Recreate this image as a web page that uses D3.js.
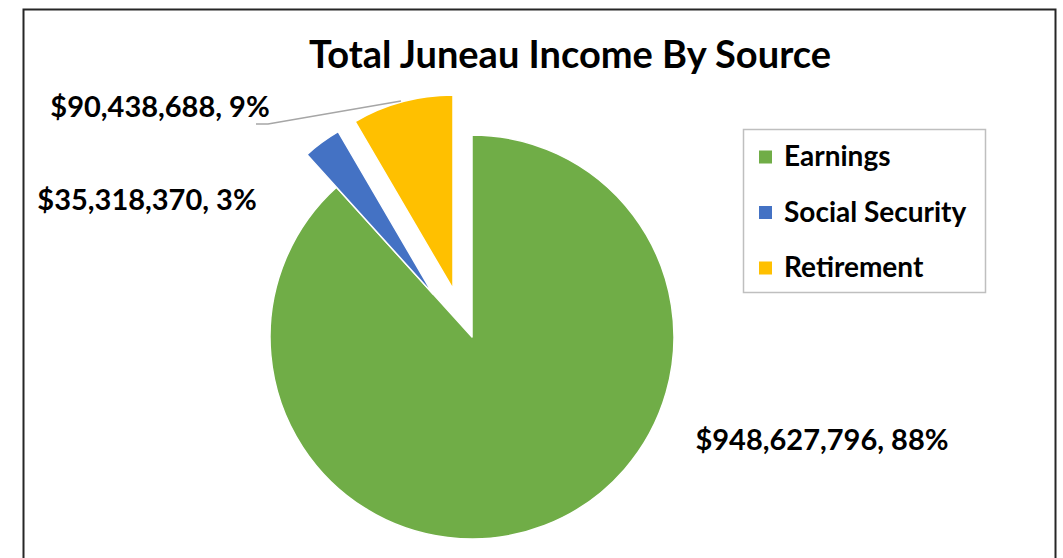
<!DOCTYPE html>
<html>
<head>
<meta charset="utf-8">
<script src="https://cdn.jsdelivr.net/npm/d3@7/dist/d3.min.js"></script>
<style>
	html, body { margin: 0; padding: 0; background: #fff; }
	svg { display: block; }
	text { font-family: Lato, "Open Sans", sans-serif; font-weight: bold; fill: #000; }
</style>
</head>
<body>
<svg id="chart" width="1063" height="558"></svg>
<script>
// data
const categories = ["Earnings", "Social Security", "Retirement"];
const incomes    = [948627796, 35318370, 90438688];
const percents   = [88, 3, 9];
const colors     = ["#70AD47", "#4472C4", "#FFC000"];
const title      = "Total Juneau Income By Source";

// layout
const cx = 472, cy = 337;
const radius   = [202, 188, 194];
// exploded slice offsets from the pie centre
const shift    = [[0, 0], [-39, -43], [-19, -48]];
const labelPos = [[822, 450], [147, 210], [160, 117]];

const svg = d3.select("#chart");

// frame
svg.append("rect")
	.attr("x", 23.5).attr("y", 9.5)
	.attr("width", 1032).attr("height", 600)
	.attr("fill", "#fff")
	.attr("stroke", "#262626")
	.attr("stroke-width", 2);

svg.append("text")
	.attr("x", 570).attr("y", 68)
	.attr("text-anchor", "middle")
	.attr("font-size", 38)
	.text(title);

// pie
const pie = d3.pie().sort(null).value(d => d)(incomes);
const g = svg.append("g").attr("transform", `translate(${cx},${cy})`);

g.selectAll("path")
	.data(pie)
	.join("path")
	.attr("transform", (d, i) => `translate(${shift[i][0]},${shift[i][1]})`)
	.attr("d", (d, i) => d3.arc().innerRadius(0).outerRadius(radius[i])(d))
	.attr("fill", (d, i) => colors[i])
	.attr("stroke", "#fff")
	.attr("stroke-width", 1.5)
	.attr("stroke-linejoin", "round");

// leader line for the retirement label
svg.append("path")
	.attr("d", d3.line()([[256, 124], [268, 124], [401, 101]]))
	.attr("fill", "none")
	.attr("stroke", "#A6A6A6")
	.attr("stroke-width", 1.5);

// data labels
const fmt = d3.format("$,");
svg.selectAll("text.lbl")
	.data(incomes)
	.join("text")
	.attr("class", "lbl")
	.attr("x", (d, i) => labelPos[i][0])
	.attr("y", (d, i) => labelPos[i][1])
	.attr("text-anchor", "middle")
	.attr("font-size", 29)
	.text((d, i) => `${fmt(d)}, ${percents[i]}%`);

// legend
const legend = svg.append("g");
legend.append("rect")
	.attr("x", 743.5).attr("y", 129.5)
	.attr("width", 242).attr("height", 163)
	.attr("fill", "#fff")
	.attr("stroke", "#BFBFBF")
	.attr("stroke-width", 1.5);

const item = legend.selectAll("g.item")
	.data(categories)
	.join("g")
	.attr("class", "item")
	.attr("transform", (d, i) => `translate(759,${157 + i * 55.5})`);

item.append("rect")
	.attr("x", 0).attr("y", -6.5)
	.attr("width", 13).attr("height", 13)
	.attr("fill", (d, i) => colors[i]);

item.append("text")
	.attr("x", 25).attr("y", 9)
	.attr("font-size", 28)
	.text(d => d);
</script>
</body>
</html>
